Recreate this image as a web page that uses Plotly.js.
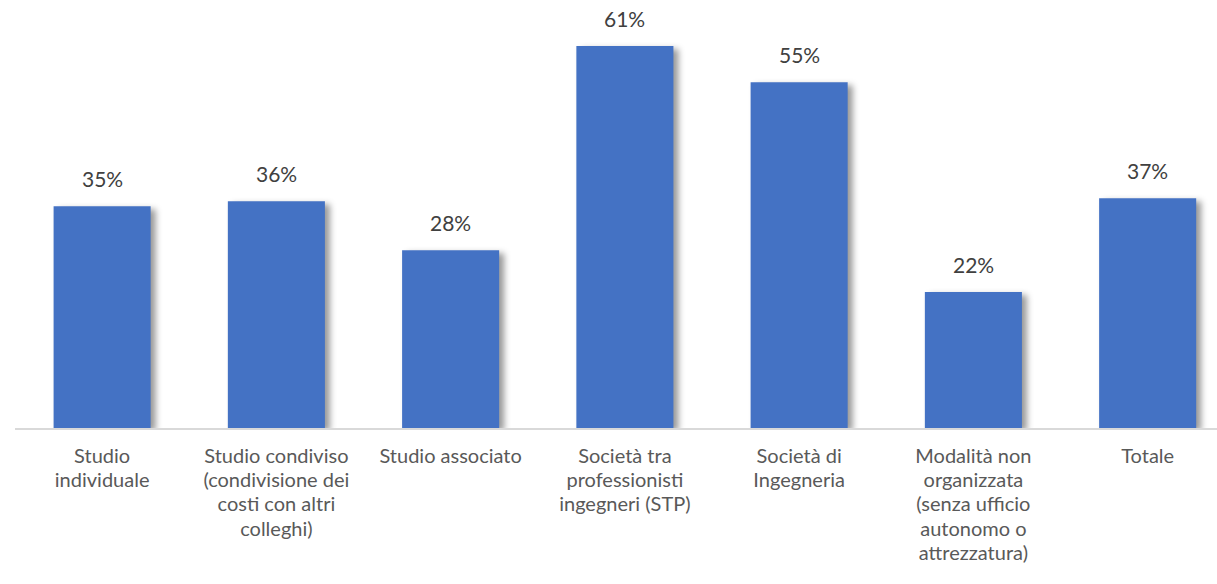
<!DOCTYPE html>
<html><head><meta charset="utf-8">
<script src="https://cdn.plot.ly/plotly-3.0.1.min.js"></script>
<style>
html,body{margin:0;padding:0;background:#fff;}
#chart .trace.bars .point path{filter:drop-shadow(5px 3px 3px rgba(0,0,0,0.4));}
</style>
</head><body>
<div id="chart" style="width:1217px;height:584px;"></div>
<script>
const categories = [
  "Studio<br>individuale",
  "Studio condiviso<br>(condivisione dei<br>costi con altri<br>colleghi)",
  "Studio associato",
  "Società tra<br>professionisti<br>ingegneri (STP)",
  "Società di<br>Ingegneria",
  "Modalità non<br>organizzata<br>(senza ufficio<br>autonomo o<br>attrezzatura)",
  "Totale"
];
const values = [35.4, 36.2, 28.4, 61.0, 55.2, 21.7, 36.7];
const labels = ["35%", "36%", "28%", "61%", "55%", "22%", "37%"];

const FONT = 'Lato, "Open Sans", sans-serif';

const trace = {
  type: 'bar',
  x: categories,
  y: values,
  marker: {color: '#4472C4'},
  hoverinfo: 'none'
};

const annotations = categories.map((c, i) => ({
  x: c, y: values[i], xref: 'x', yref: 'y',
  text: labels[i], showarrow: false,
  yanchor: 'bottom', yshift: 13,
  font: {family: FONT, size: 21, color: '#404040'}
}));

const layout = {
  width: 1217, height: 584,
  margin: {l: 15, r: 0, t: 20, b: 156},
  paper_bgcolor: '#fff', plot_bgcolor: '#fff',
  bargap: 0.443,
  showlegend: false,
  font: {family: FONT, size: 20, color: '#595959'},
  annotations: annotations,
  xaxis: {
    type: 'category',
    range: [-0.5, 6.398],
    showline: true, linecolor: '#d9d9d9', linewidth: 1.5,
    showgrid: false, ticks: '', zeroline: false,
    tickfont: {family: FONT, size: 20, color: '#595959'},
    ticklabelstandoff: 9
  },
  yaxis: {
    range: [0, 65.15],
    visible: false, showgrid: false, zeroline: false
  }
};

Plotly.newPlot('chart', [trace], layout, {staticPlot: true, displayModeBar: false}).then(() => {
  // slightly tighter multi-line tick label spacing, as in the reference
  document.querySelectorAll('#chart .xtick text').forEach(t => {
    t.querySelectorAll('tspan.line').forEach((ts, i) => {
      ts.setAttribute('dy', (i * 1.22) + 'em');
    });
  });
});
</script>
</body></html>
